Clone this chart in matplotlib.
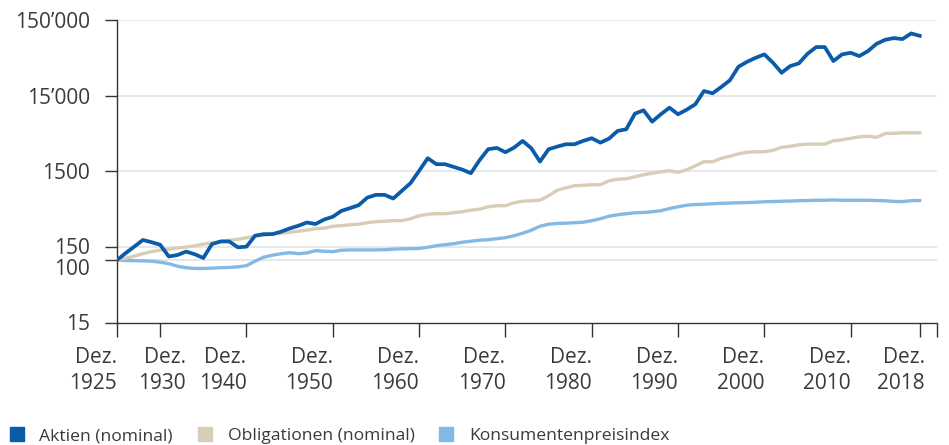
import matplotlib
matplotlib.use("Agg")
import matplotlib.pyplot as plt
from matplotlib.lines import Line2D
import matplotlib.transforms as mtransforms

plt.rcParams['font.family'] = ['Open Sans', 'DejaVu Sans']

years = list(range(1925, 2019))

aktien = [100, 124, 151, 185, 173, 160, 112, 117, 130, 120,
          107, 163, 177, 177, 148, 151, 211, 221, 221, 238,
          263, 285, 315, 301, 345, 375, 449, 488, 534, 673,
          731, 731, 654, 826, 1043, 1517, 2232, 1860, 1860, 1713,
          1578, 1414, 2100, 2934, 3052, 2678, 3080, 3776, 3024, 2012,
          2934, 3176, 3415, 3415, 3776, 4099, 3586, 4049, 5118, 5388,
          8657, 9599, 6787, 8500, 10389, 8500, 9777, 11521, 17261, 16097,
          19498, 23903, 36126, 42058, 47507, 52667, 40792, 30106, 36908, 40058,
          53633, 65768, 65768, 42966, 52667, 55285, 50019, 58232, 72696, 82087,
          86454, 83865, 99710, 92705]

obligationen = [100, 106, 113, 122, 130, 136, 140, 145, 149, 155,
                163, 170, 176, 184, 189, 198, 208, 214, 221, 227,
                234, 242, 249, 261, 265, 281, 286, 294, 299, 313,
                323, 328, 333, 333, 353, 387, 405, 412, 412, 424,
                437, 458, 472, 509, 525, 525, 575, 602, 611, 620,
                711, 841, 907, 964, 979, 994, 994, 1122, 1175, 1193,
                1268, 1348, 1411, 1476, 1522, 1454, 1569, 1772, 2001, 2001,
                2226, 2365, 2552, 2672, 2713, 2713, 2839, 3110, 3206, 3356,
                3428, 3428, 3428, 3790, 3907, 4089, 4280, 4345, 4215, 4732,
                4761, 4834, 4834, 4834]

kpi = [100, 99.1, 98.5, 97.9, 97.0, 94.1, 89.9, 83.3, 79.6, 77.7,
       77.7, 78.4, 79.6, 80.1, 81.6, 84.6, 97.0, 109.6, 116.4, 121.9,
       125.6, 121.9, 124.9, 133.5, 131.5, 129.5, 135.6, 136.8, 136.8, 136.8,
       136.8, 137.6, 139.8, 141.1, 141.9, 142.8, 148.5, 155.4, 160.2, 165.2,
       172.9, 178.2, 183.7, 186.6, 192.3, 198.3, 210.7, 227.3, 249.0, 281.3,
       298.9, 306.3, 308.2, 312.9, 317.7, 332.5, 353.4, 381.3, 399.1, 411.5,
       424.2, 426.8, 437.3, 450.8, 481.9, 509.0, 533.0, 544.4, 549.4, 557.8,
       566.2, 569.7, 574.9, 578.4, 583.7, 592.7, 596.3, 601.7, 605.4, 610.9,
       614.6, 620.3, 620.3, 626.0, 620.3, 620.3, 620.3, 620.3, 614.6, 610.9,
       598.2, 596.3, 610.9, 614.6]

series_names = ["Aktien (nominal)", "Obligationen (nominal)", "Konsumentenpreisindex"]
colors = ["#0a5ba9", "#d8cdb6", "#84b9e6"]

y_ticks = [15, 100, 150, 1500, 15000, 150000]
y_labels = ["15", "100", "150", "1500", "15\u2019000", "150\u2019000"]
y_label_dy = [0, -7, 0.5, 0, 0, 0]
x_ticks = [1925, 1930, 1940, 1950, 1960, 1970, 1980, 1990, 2000, 2010, 2018, 2020]
x_label_years = [1925, 1930, 1940, 1950, 1960, 1970, 1980, 1990, 2000, 2010, 2018]
x_label_pos = [1925, 1933, 1940, 1950, 1960, 1970, 1980, 1990, 2000, 2010, 2018.6]

W, H = 949, 445
fig = plt.figure(figsize=(W / 100, H / 100), dpi=100)
ax = fig.add_axes([117 / W, 1 - 322.5 / H, (937 - 117) / W, (322.5 - 20) / H])

text_color = "#3a3a3a"
axis_color = "#333333"
fs = 15

for yt in y_ticks[1:]:
    ax.axhline(yt, color="#dfe4e6", lw=1.2, zorder=1)

ax.plot(years, kpi, color=colors[2], lw=2.4, zorder=3, solid_joinstyle='round')
ax.plot(years, obligationen, color=colors[1], lw=2.4, zorder=3, solid_joinstyle='round')
ax.plot(years, aktien, color=colors[0], lw=2.7, zorder=4, solid_joinstyle='round')

ax.set_yscale("log")
ax.set_ylim(15, 150000)
ax.set_xlim(1925, 2020)
ax.set_yticks(y_ticks)
ax.set_yticklabels([""] * len(y_ticks))
ax.yaxis.set_minor_locator(matplotlib.ticker.NullLocator())
ax.set_xticks(x_ticks)
ax.set_xticklabels([""] * len(x_ticks))

for s in ["top", "right"]:
    ax.spines[s].set_visible(False)
for s in ["left", "bottom"]:
    ax.spines[s].set_color(axis_color)
    ax.spines[s].set_linewidth(1.0)

ax.tick_params(axis="y", length=9, width=1.0, color=axis_color)
ax.tick_params(axis="x", length=10, width=1.0, color=axis_color)

ytrans = mtransforms.blended_transform_factory(ax.transAxes, ax.transData)
for yt, lab, dy in zip(y_ticks, y_labels, y_label_dy):
    t = ytrans + mtransforms.ScaledTranslation(0, dy / 100, fig.dpi_scale_trans)
    ax.text(-27 / 820, yt, lab, transform=t, ha="right", va="center_baseline",
            fontsize=fs, color=text_color)

xtrans = mtransforms.blended_transform_factory(ax.transData, ax.transAxes)
for yr, pos in zip(x_label_years, x_label_pos):
    ax.text(pos, -0.082, "Dez.\n" + str(yr), transform=xtrans, ha="right", va="top",
            multialignment="right", fontsize=fs, color=text_color, linespacing=1.3)

handles = [Line2D([], [], ls="none", marker="s", markersize=10, color=c) for c in colors]
leg = fig.legend(handles, series_names, loc="lower left", bbox_to_anchor=(6 / W, -0.004),
                 ncol=3, frameon=False, fontsize=12.6, handlelength=0.9, handletextpad=0.85,
                 columnspacing=1.38, labelcolor=text_color, borderaxespad=0.0, borderpad=0.15)

fig.savefig("out.png", dpi=100, facecolor="white")
